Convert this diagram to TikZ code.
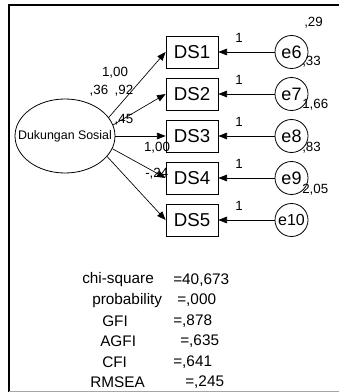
\documentclass[tikz,border=0pt]{standalone}
\usepackage{fontspec}
\setmainfont{Liberation Sans}
\usetikzlibrary{shapes.geometric,arrows.meta}
\begin{document}
\begin{tikzpicture}[x=0.75pt,y=-0.75pt,
  obs/.style={draw, line width=0.6pt, minimum width=39pt, minimum height=24pt, inner sep=0pt, font=\fontsize{14}{16}\selectfont},
  err/.style={draw, circle, line width=0.6pt, minimum size=24.75pt, inner sep=0pt, font=\fontsize{13.5}{15}\selectfont},
  lat/.style={draw, ellipse, line width=0.6pt, minimum width=75pt, minimum height=55.5pt, inner sep=0pt},
  arr/.style={-{Triangle[length=6.5pt,width=5pt]}, line width=0.5pt},
  lbl/.style={inner sep=0pt, font=\fontsize{10}{12}\selectfont},
  stat/.style={inner sep=0pt, anchor=west, font=\fontsize{11.5}{13}\selectfont}
]
\useasboundingbox (0,0) rectangle (339,392);
% frame
\draw[line width=1.5pt] (8.5,392) -- (8.5,5) -- (339,5);
\draw[gray!70, line width=0.75pt] (8.5,391) -- (339,391);

% latent
\node[lat] (dk) at (65,136) {};
\node[inner sep=0pt, font=\fontsize{9.3}{11}\selectfont] (dktext) at (dk.center) {Dukungan Sosial};

% labels under arrows
\node[lbl] (l100a) at (115,73) {1,00};
\node[lbl] (l36) at (99,91) {,36};
\node[lbl] (l92) at (124,91) {,92};
\node[lbl] (l45) at (124,120) {,45};
\node[lbl] (l100b) at (157,148) {1,00};
\node[lbl, anchor=west] (l24) at (145,174) {-,24};

% observed
\node[obs] (ds1) at (192,52) {DS1};
\node[obs] (ds2) at (192,94) {DS2};
\node[obs] (ds3) at (192,136) {DS3};
\node[obs] (ds4) at (192,178) {DS4};
\node[obs] (ds5) at (192,220) {DS5};

% errors
\node[err] (e6) at (291.5,52) {e6};
\node[err] (e7) at (291.5,94) {e7};
\node[err] (e8) at (291.5,136) {e8};
\node[err] (e9) at (291.5,178) {e9};
\node[err, font=\fontsize{12}{14}\selectfont] (e10) at (291.5,220) {e10};

% error arrows
\foreach \e/\d in {e6/ds1, e7/ds2, e8/ds3, e9/ds4, e10/ds5}
  \draw[arr] (\e) -- (\d);

% "1" labels
\foreach \y/\n in {38/a, 80/b, 122/c, 164/d, 206/e}
  \node[lbl] (one\n) at (239,\y) {1};

% variance labels
\node[lbl, anchor=west] (v29) at (304,23) {,29};
\node[lbl, anchor=west] (v33) at (302,62) {,33};
\node[lbl, anchor=west] (v166) at (302,105) {1,66};
\node[lbl, anchor=west] (v83) at (302,148) {,83};
\node[lbl, anchor=west] (v205) at (302,190) {2,05};

% loading arrows
\draw[arr] (dk.23) -- (ds1.west);
\draw[arr] (dk.13) -- (ds2.west);
\draw[arr] (dk.east) -- (ds3.west);
\draw[arr] (dk.-15) -- (ds4.west);
\draw[arr] (dk.-26) -- (ds5.west);

% fit statistics
\node[stat] (s1a) at (82,280) {chi-square};
\node[stat] (s1b) at (173,280) {=40,673};
\node[stat] (s2a) at (92,300.5) {probability};
\node[stat] (s2b) at (177,300.5) {=,000};
\node[stat] (s3a) at (102,321) {GFI};
\node[stat] (s3b) at (173,321) {=,878};
\node[stat] (s4a) at (100,341.5) {AGFI};
\node[stat] (s4b) at (180,341.5) {=,635};
\node[stat] (s5a) at (102,362) {CFI};
\node[stat] (s5b) at (173,362) {=,641};
\node[stat] (s6a) at (90,382.5) {RMSEA};
\node[stat] (s6b) at (185,382.5) {=,245};
\end{tikzpicture}
\end{document}
